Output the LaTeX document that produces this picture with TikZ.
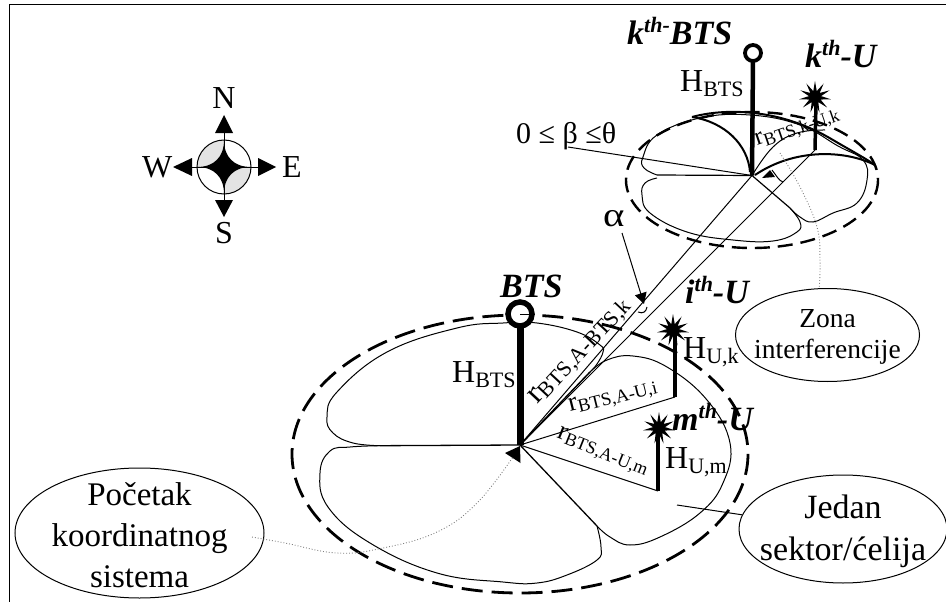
\documentclass[tikz,border=0pt]{standalone}
\usepackage{fontspec}
\setmainfont{Liberation Serif}
\usetikzlibrary{shapes.geometric,arrows.meta}
\newcommand{\fsz}[1]{\fontsize{#1}{#1}\selectfont}
\newcommand{\Hsub}[1]{{\fsz{32}H}\raisebox{-5pt}{\fsz{22}#1}}
\newcommand{\Rsub}[3]{{\fsz{#1}r}\raisebox{-3pt}{\fsz{#2}#3}}
\newcommand{\Bold}[4]{{\fsz{#1}\bfseries\itshape #2\raisebox{12pt}{\fsz{22}#3}#4}}
\tikzset{
  thinl/.style={line width=1pt},
  petal/.style={line width=1pt,smooth,tension=.7},
  bigdash/.style={line width=2.8pt,dash pattern=on 21pt off 9pt},
  smalldash/.style={line width=2.4pt,dash pattern=on 15pt off 8pt},
  callout/.style={draw,ellipse,inner sep=0pt,line width=1pt},
  calltext/.style={inner sep=0pt,align=center},
  lab/.style={anchor=base west,inner sep=0pt},
  dot/.style={line width=.9pt,gray,dotted,smooth,tension=.7},
  ustar/.style={star,star points=11,star point ratio=2.6,fill=black,inner sep=0pt,minimum size=32pt},
  mast/.style={line width=4.5pt}
}
\begin{document}
\begin{tikzpicture}[x=1pt,y=-1pt]
\useasboundingbox (0,0) rectangle (946,602);
% frame
\draw[line width=1.2pt] (946,4.5) -- (9.5,4.5) -- (9.5,602);
% compass
\begin{scope}[shift={(224,167)}]
\fill[gray!22] (0,-27) arc (270:180:27) .. controls (-10,0) and (0,-10) .. (0,-27);
\fill[gray!22] (0,27) arc (90:0:27) .. controls (10,0) and (0,10) .. (0,27);
\draw[line width=1pt] (0,-27) arc (270:-90:27);
\fill (0,-27) .. controls (0,-10) and (10,0) .. (27,0) .. controls (10,0) and (0,10) .. (0,27) .. controls (0,10) and (-10,0) .. (-27,0) .. controls (-10,0) and (0,-10) .. (0,-27);
\draw[line width=1pt] (0,-35) -- (0,35) (-35,0) -- (35,0);
\fill (0,-52) -- (9,-34) -- (-9,-34) -- cycle;
\fill (0,50) -- (9,33) -- (-9,33) -- cycle;
\fill (52,0) -- (34,9) -- (34,-9) -- cycle;
\fill (-51,0) -- (-32,9) -- (-32,-9) -- cycle;
\end{scope}
\node[anchor=base,inner sep=0pt] (nN) at (224,109) {\fsz{32}N};
\node[anchor=base,inner sep=0pt] (nS) at (224,243) {\fsz{32}S};
\node[lab] (nW) at (142,177) {\fsz{32}W};
\node[lab] (nE) at (282,177) {\fsz{32}E};
% big cell
\coordinate (O) at (520,445);
\coordinate (Oa) at (590,372);
\coordinate (Ob) at (597,526);
\coordinate (Ui) at (675,397);
\coordinate (Um) at (658,491);
\coordinate (T) at (752,175.5);
\coordinate (Uk) at (815,150);
\draw[bigdash] (520,454) ellipse [x radius=228,y radius=139];
\draw[line width=1.3pt] (O) -- (380,445.7);
\draw[line width=1.5pt] (O) -- (Oa);
\draw[line width=1.3pt] (O) -- (Ob);
\draw[petal] plot coordinates {(380,445.7) (353,443) (333,433) (327,417) (337,392) (387,352) (457,328) (503,323) (537,323) (577,332) (600,345) (603,352) (597,364) (Oa)};
\draw[petal] plot coordinates {(380,445.7) (350,447) (330,451) (320,473) (328,507) (370,543) (437,573) (503,582) (537,583) (567,575) (597,560) (601,547) (Ob)};
\draw[petal] plot coordinates {(Oa) (607,360) (633,356) (667,367) (707,400) (730,443) (723,483) (700,513) (660,537) (630,545) (610,537) (Ob)};
% rays
\draw[thinl] (O) -- (Ui);
\draw[thinl] (O) -- (Um);
\draw[thinl] (O) -- (T);
\draw[thinl] (O) -- (Uk);
\draw[thinl] (638,312) .. controls (643,314) and (646,312) .. (647,307);
% masts of the big cell
\draw[line width=7pt] (O) -- (520,326);
\node[circle,draw,fill=white,line width=5.5pt,minimum size=24pt,inner sep=0pt] (bts) at (520,314) {};
\draw[line width=.7pt] (bts.center) -- (bts.east);
\fill (505,453) -- (520.5,463) -- (520,446) -- cycle;
\draw[mast] (Ui) -- (675,335);
\draw[mast] (Um) -- (658,430);
\node[ustar] (si) at (673,330) {};
\node[ustar] (sm) at (659,428) {};
% small cell
\draw[smalldash] (752,180) ellipse [x radius=126,y radius=68];
\draw[line width=1.2pt] (T) -- (657,175);
\draw[line width=1.2pt] (T) -- (790,208);
\draw[petal] plot coordinates {(657,175) (644,168) (643,157) (657,135) (700,118) (750,115) (800,125) (838,146) (863,160) (867,180) (857,203) (833,213) (813,222) (800,217) (790,208)};
\draw[petal] plot coordinates {(657,178) (645,183) (642,195) (650,213) (687,232) (733,240) (773,241) (797,232) (800,222) (790,208)};
\draw[petal] plot coordinates {(T) (773,147) (797,133) (825,130)};
\draw[line width=2pt] (692,117) .. controls (725,108) and (780,108) .. (833,140) .. controls (850,150) and (865,158) .. (875,165);
\draw[line width=2pt] (875,165) .. controls (845,150) and (795,148) .. (755,175);
\draw[line width=2pt] (692,117) .. controls (725,122) and (748,145) .. (750,172);
\fill (762,178) -- (775,177) -- (770,170) -- cycle;
\draw[thinl] (772,170) .. controls (776,175) and (779,181) .. (783,182);
\draw[mast] (T) -- (753,60);
\node[circle,draw,fill=white,line width=3.8pt,minimum size=16pt,inner sep=0pt] (kbts) at (753,53) {};
\draw[line width=3.5pt] (Uk) -- (816,102);
\node[ustar] (sk) at (815,97) {};
% callouts
\node[callout,minimum width=249pt,minimum height=130pt] (poc) at (139.5,533) {};
\node[calltext,font=\fontsize{33}{41}\selectfont] (pocT) at (139.5,535) {Početak\\koordinatnog\\sistema};
\node[callout,minimum width=184pt,minimum height=93pt] (zon) at (827.5,335) {};
\node[calltext,font=\fontsize{27.5}{31}\selectfont] (zonT) at (827.5,336.5) {Zona\\interferencije};
\node[callout,minimum width=208pt,minimum height=108pt] (jed) at (843,529) {};
\node[calltext,font=\fontsize{34}{42}\selectfont] (jedT) at (843,531) {Jedan\\sektor/ćelija};
\coordinate (pocA) at (252,537);
\coordinate (jedB) at (677,505);
\draw[dot] plot coordinates {(pocA) (285,543) (337,553) (383,548) (437,532) (477,503) (513,457)};
\draw[dot] plot coordinates {(780,153) (800,187) (817,227) (820,260) (zon.100)};
\draw[thinl] (jed.172) -- (jedB);
% labels
\node[lab] (l1) at (452,382) {\Hsub{BTS}};
\node[lab] (l2) at (680,92) {\Hsub{BTS}};
\node[lab] (l3) at (683,358) {\Hsub{U,k}};
\node[lab] (l4) at (665,468) {\Hsub{U,m}};
\node[lab,rotate=47] (r1) at (537,405) {\Rsub{32}{22}{BTS,A-BTS,k}};
\node[lab,rotate=14] (r2) at (570,412) {\Rsub{27}{18.5}{BTS,A-U,i}};
\node[lab,rotate=-22] (r3) at (556,437) {\Rsub{27}{18}{BTS,A-U,m}};
\node[lab,rotate=19] (r4) at (757,146) {\Rsub{25}{18}{BTS,k-U,k}};
\node[lab] (b1) at (500,297) {\fsz{34}\bfseries\itshape BTS};
\node[lab] (b2) at (627,45) {\Bold{34}{k}{th-}{BTS}};
\node[lab] (b3) at (805,68) {\Bold{34}{k}{th}{-U}};
\node[lab] (b4) at (685,303) {\Bold{34}{i}{th}{-U}};
\node[lab] (b5) at (672,430) {\Bold{34}{m}{th}{-U}};
\node[lab] (ang) at (516,143) {\fsz{30}0 ≤ β ≤θ};
\node[lab,xscale=1.2] (alf) at (603,226) {\fsz{34}α};
\coordinate (alfA) at (622,233);
\draw[thinl,-{Triangle[length=11pt,width=12pt]}] (alfA) -- (644,304);
\draw[thinl] (568,147) -- (T);
\end{tikzpicture}
\end{document}
